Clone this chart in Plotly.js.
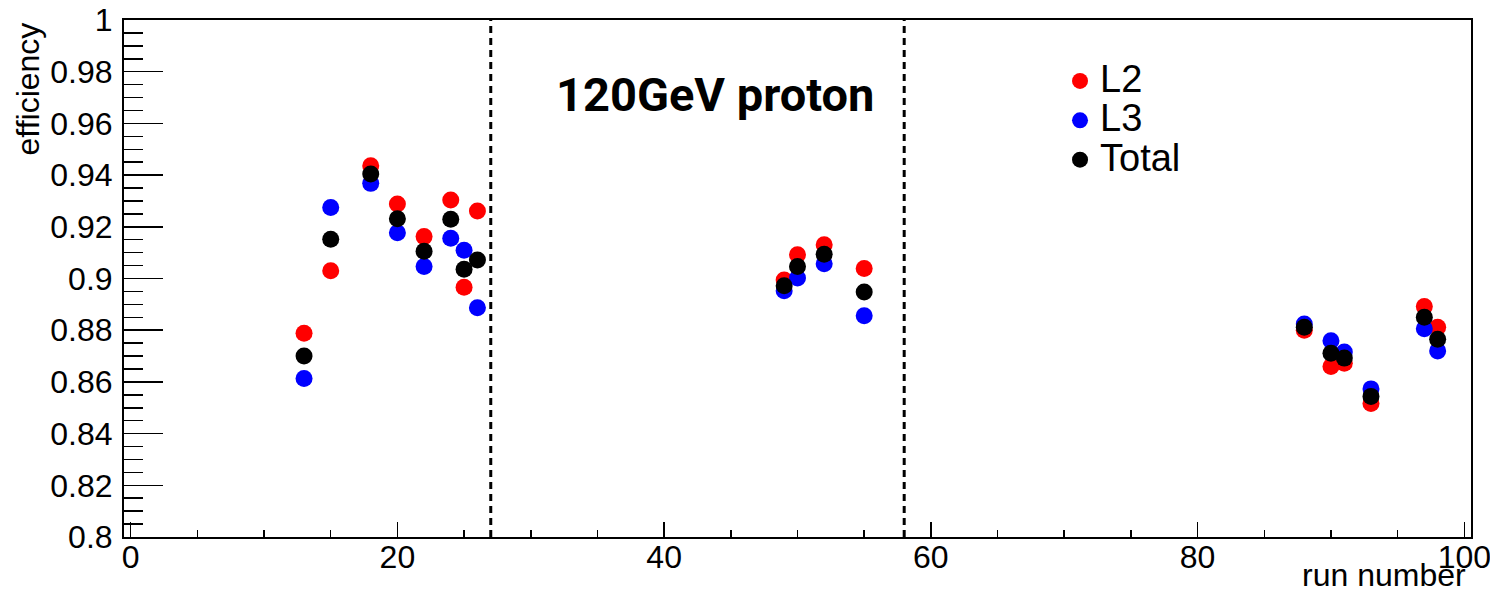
<!DOCTYPE html>
<html>
<head>
<meta charset="utf-8">
<script src="https://cdn.plot.ly/plotly-3.0.1.min.js"></script>
<style>html,body{margin:0;padding:0;background:#fff;}#chart{width:1490px;height:591px;}</style>
</head>
<body>
<div id="chart"></div>
<script>
// Run numbers
const runs = [13, 15, 18, 20, 22, 24, 25, 26, 49, 50, 52, 55, 88, 90, 91, 93, 97, 98];
// Efficiencies per run
const effL2    = [0.8788, 0.9030, 0.9436, 0.9288, 0.9162, 0.9304, 0.8966, 0.9261, 0.8994, 0.9092, 0.9131, 0.9039, 0.8800, 0.8660, 0.8672, 0.8516, 0.8892, 0.8811];
const effL3    = [0.8613, 0.9275, 0.9368, 0.9177, 0.9046, 0.9156, 0.9109, 0.8887, 0.8953, 0.9002, 0.9057, 0.8856, 0.8824, 0.8759, 0.8716, 0.8573, 0.8806, 0.8720];
const effTotal = [0.8700, 0.9152, 0.9404, 0.9231, 0.9105, 0.9229, 0.9036, 0.9072, 0.8972, 0.9046, 0.9094, 0.8948, 0.8811, 0.8711, 0.8692, 0.8544, 0.8850, 0.8765];
const seriesNames = ['L2', 'L3', 'Total'];
const seriesColors = ['#ff0000', '#0000ff', '#000000'];
// Run-period boundaries (dashed lines)
const boundaries = [27, 58];
// Tick labels
const yTickVals = [0.8, 0.82, 0.84, 0.86, 0.88, 0.9, 0.92, 0.94, 0.96, 0.98, 1.0];
const yTickText = ['0.8', '0.82', '0.84', '0.86', '0.88', '0.9', '0.92', '0.94', '0.96', '0.98', '1'];
const annotationText = '120GeV proton';

const series = [effL2, effL3, effTotal];
const FONT = 'Liberation Sans, Arial, sans-serif';

const traces = series.map((ys, i) => ({
  type: 'scatter',
  mode: 'markers',
  x: runs,
  y: ys,
  name: '<span style="font-size:38px">' + seriesNames[i] + '</span>',
  marker: {color: seriesColors[i], size: 17, line: {width: 0}},
  hoverinfo: 'x+y'
}));

const shapes = boundaries.map(b => ({
  type: 'line', xref: 'x', yref: 'paper',
  x0: b, x1: b, y0: 0, y1: 1,
  line: {color: '#000', width: 3, dash: '7px,5px'}
}));

const layout = {
  width: 1490, height: 591,
  margin: {l: 124, r: 19, t: 20, b: 54, pad: 0},
  paper_bgcolor: '#fff', plot_bgcolor: '#fff',
  font: {family: FONT, size: 32, color: '#000'},
  showlegend: true,
  legend: {
    x: 0.6949, xanchor: 'left', y: 0.93, yanchor: 'top',
    bgcolor: 'rgba(0,0,0,0)', borderwidth: 0,
    font: {family: FONT, size: 28, color: '#000'}
  },
  xaxis: {
    range: [-0.5, 100.5],
    tickmode: 'linear', tick0: 0, dtick: 20,
    ticks: 'inside', ticklen: 15, tickwidth: 1.5, tickcolor: '#000',
    minor: {dtick: 5, tick0: 0, ticks: 'inside', ticklen: 7, tickwidth: 1.5, tickcolor: '#000'},
    showline: true, linecolor: '#000', linewidth: 2, mirror: true,
    showgrid: false, zeroline: false,
    tickfont: {family: FONT, size: 32, color: '#000'},
    ticklabelstandoff: -9,
    ticklabeloverflow: 'allow'
  },
  yaxis: {
    range: [0.8, 1.0],
    tickmode: 'array', tickvals: yTickVals, ticktext: yTickText,
    ticks: 'inside', ticklen: 39, tickwidth: 1.5, tickcolor: '#000',
    minor: {dtick: 0.005, tick0: 0.8, ticks: 'inside', ticklen: 19, tickwidth: 1.5, tickcolor: '#000'},
    showline: true, linecolor: '#000', linewidth: 2, mirror: true,
    showgrid: false, zeroline: false,
    tickfont: {family: FONT, size: 32, color: '#000'},
    ticklabelstandoff: 3
  },
  shapes: shapes,
  annotations: [
    {text: annotationText, xref: 'paper', yref: 'paper', x: 0.4388, y: 0.855,
     xanchor: 'center', yanchor: 'middle', showarrow: false,
     font: {family: 'Roboto, sans-serif', size: 47, color: '#000', weight: 'bold'}},
    {text: 'efficiency', xref: 'paper', yref: 'paper', x: -0.0713, y: 1,
     xanchor: 'center', yanchor: 'top', textangle: -90, showarrow: false,
     font: {family: FONT, size: 32, color: '#000'}},
    {text: 'run number', xref: 'paper', yref: 'paper', x: 0.9978, y: -0.0735,
     xanchor: 'right', yanchor: 'middle', showarrow: false,
     font: {family: FONT, size: 32, color: '#000'}}
  ]
};

Plotly.newPlot('chart', traces, layout, {displayModeBar: false, staticPlot: true});
</script>
</body>
</html>
